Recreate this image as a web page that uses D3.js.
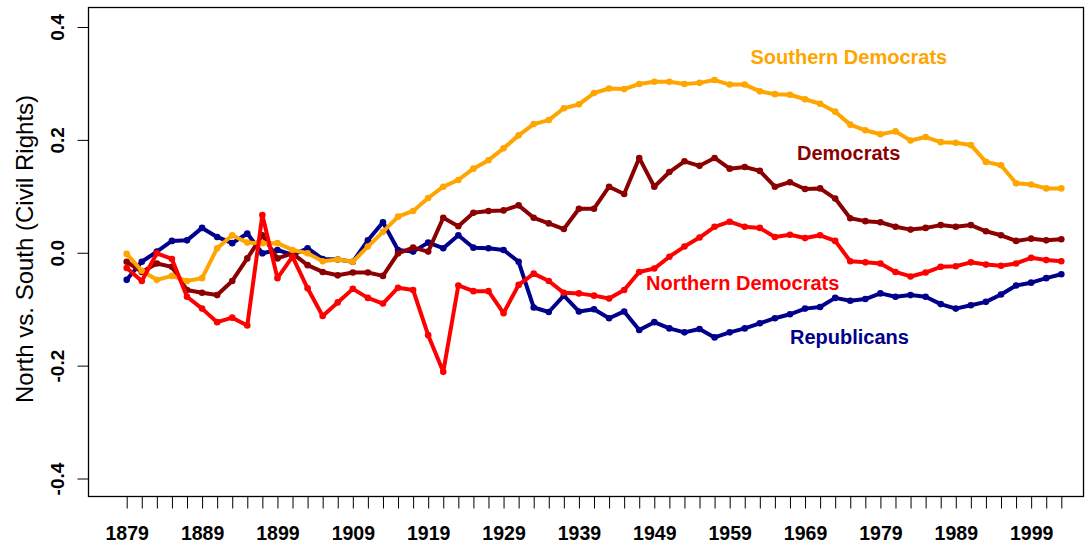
<!DOCTYPE html>
<html>
<head>
<meta charset="utf-8">
<script src="https://cdn.jsdelivr.net/npm/d3@7/dist/d3.min.js"></script>
<style>
  html, body { margin: 0; padding: 0; background: #fff; }
  svg { display: block; }
  text { font-family: "Liberation Sans", Arial, sans-serif; }
</style>
</head>
<body>
<svg id="chart" width="1086" height="545"></svg>
<script>
// Congress start years (every 2 years)
const years = d3.range(1879, 2004, 2);
const yearLabels = [1879, 1889, 1899, 1909, 1919, 1929, 1939, 1949, 1959, 1969, 1979, 1989, 1999];
const yTicks = [-0.4, -0.2, 0.0, 0.2, 0.4];

const southernDemocrats = [
  -0.002, -0.032, -0.048, -0.041, -0.050, -0.045, 0.008, 0.031, 0.018, 0.017,
   0.017, 0.005, -0.001, -0.015, -0.012, -0.016, 0.011, 0.037, 0.064, 0.074,
   0.097, 0.117, 0.129, 0.149, 0.164, 0.185, 0.208, 0.228, 0.235, 0.256,
   0.263, 0.283, 0.291, 0.290, 0.299, 0.303, 0.303, 0.299, 0.301, 0.306,
   0.298, 0.298, 0.286, 0.281, 0.280, 0.272, 0.264, 0.250, 0.227, 0.217,
   0.210, 0.215, 0.199, 0.205, 0.196, 0.195, 0.191, 0.161, 0.155, 0.123,
   0.121, 0.114, 0.114
];
const democrats = [
  -0.016, -0.034, -0.019, -0.025, -0.066, -0.071, -0.075, -0.050, -0.010, 0.031,
  -0.010, -0.001, -0.022, -0.034, -0.040, -0.035, -0.035, -0.041, -0.001, 0.009,
   0.002, 0.062, 0.047, 0.071, 0.074, 0.075, 0.084, 0.062, 0.052, 0.042,
   0.078, 0.078, 0.117, 0.104, 0.168, 0.117, 0.143, 0.162, 0.154, 0.168,
   0.149, 0.152, 0.145, 0.117, 0.125, 0.113, 0.114, 0.096, 0.061, 0.056,
   0.054, 0.046, 0.041, 0.044, 0.049, 0.046, 0.049, 0.038, 0.031, 0.021,
   0.025, 0.022, 0.024
];
const northernDemocrats = [
  -0.027, -0.050, -0.001, -0.011, -0.078, -0.099, -0.123, -0.115, -0.129, 0.067,
  -0.045, -0.007, -0.063, -0.112, -0.088, -0.064, -0.080, -0.090, -0.062, -0.066,
  -0.146, -0.211, -0.058, -0.068, -0.068, -0.107, -0.057, -0.037, -0.050, -0.071,
  -0.072, -0.076, -0.081, -0.066, -0.034, -0.028, -0.007, 0.011, 0.027, 0.046,
   0.055, 0.046, 0.044, 0.028, 0.032, 0.026, 0.031, 0.021, -0.015, -0.017,
  -0.019, -0.034, -0.042, -0.035, -0.025, -0.024, -0.017, -0.021, -0.023, -0.019,
  -0.009, -0.013, -0.015
];
const republicans = [
  -0.048, -0.016, 0.002, 0.021, 0.022, 0.044, 0.028, 0.017, 0.034, -0.001,
   0.005, -0.004, 0.008, -0.011, -0.012, -0.016, 0.022, 0.054, 0.005, 0.002,
   0.018, 0.008, 0.031, 0.009, 0.008, 0.005, -0.016, -0.097, -0.105, -0.076,
  -0.104, -0.100, -0.116, -0.104, -0.137, -0.123, -0.134, -0.141, -0.135, -0.150,
  -0.141, -0.134, -0.125, -0.116, -0.109, -0.099, -0.096, -0.080, -0.085, -0.082,
  -0.072, -0.078, -0.075, -0.078, -0.091, -0.099, -0.093, -0.087, -0.074, -0.058,
  -0.053, -0.045, -0.038
];

const seriesNames = ["Republicans", "Democrats", "Southern Democrats", "Northern Democrats"];
const seriesValues = [republicans, democrats, southernDemocrats, northernDemocrats];
const seriesColors = ["#00008B", "#8B0000", "#FFA500", "#FF0000"];

const svg = d3.select("#chart");
const box = { left: 88.5, right: 1083.5, top: 7.5, bottom: 496.5 };

const x = d3.scaleLinear().domain([1879, 2003]).range([126.7, 1061.3]);
const y = d3.scaleLinear().domain([-0.4, 0.4]).range([478.5, 27.0]);

// plot box
svg.append("rect")
  .attr("x", box.left).attr("y", box.top)
  .attr("width", box.right - box.left).attr("height", box.bottom - box.top)
  .attr("fill", "none").attr("stroke", "#000").attr("stroke-width", 1.3);

// x axis
const xAxis = d3.axisBottom(x)
  .tickValues(years)
  .tickSize(12)
  .tickFormat(d => yearLabels.includes(d) ? String(d) : "");
const gx = svg.append("g").attr("transform", `translate(0,${box.bottom})`).call(xAxis);
gx.select(".domain").remove();
gx.selectAll(".tick line").attr("stroke", "#000").attr("stroke-width", 1);
gx.selectAll(".tick text")
  .attr("y", 43.5).attr("dy", 0)
  .attr("fill", "#000")
  .style("font-size", "19.5px").style("font-weight", "bold")
  .style("font-family", "'Liberation Sans', Arial, sans-serif");

// y axis
const yAxis = d3.axisLeft(y)
  .tickValues(yTicks)
  .tickSize(11)
  .tickFormat(d => d.toFixed(1));
const gy = svg.append("g").attr("transform", `translate(${box.left},0)`).call(yAxis);
gy.select(".domain").remove();
gy.selectAll(".tick line").attr("stroke", "#000").attr("stroke-width", 1);
gy.selectAll(".tick text")
  .attr("x", 0).attr("y", 0).attr("dy", 0)
  .attr("transform", "translate(-25,0) rotate(-90)")
  .attr("text-anchor", "middle")
  .attr("fill", "#000")
  .style("font-size", "19px").style("font-weight", "bold")
  .style("font-family", "'Liberation Sans', Arial, sans-serif");

// y title
svg.append("text")
  .attr("transform", "translate(33,249) rotate(-90)")
  .attr("text-anchor", "middle")
  .style("font-size", "24px")
  .attr("fill", "#000")
  .text("North vs. South (Civil Rights)");

// lines
const line = d3.line().x((d, i) => x(years[i])).y(d => y(d));
seriesValues.forEach((vals, k) => {
  const g = svg.append("g").attr("class", "series");
  g.append("path")
    .datum(vals)
    .attr("d", line)
    .attr("fill", "none")
    .attr("stroke", seriesColors[k])
    .attr("stroke-width", 4)
    .attr("stroke-linejoin", "round");
  g.selectAll("circle").data(vals).enter().append("circle")
    .attr("cx", (d, i) => x(years[i]))
    .attr("cy", d => y(d))
    .attr("r", 3.3)
    .attr("fill", seriesColors[k]);
});

// series labels
const labelPos = {
  "Southern Democrats": [750.5, 63.5],
  "Democrats": [797, 160],
  "Northern Democrats": [646, 290],
  "Republicans": [790, 344]
};
seriesNames.forEach((n, k) => {
  svg.append("text")
    .attr("x", labelPos[n][0]).attr("y", labelPos[n][1])
    .attr("fill", seriesColors[k])
    .style("font-size", "20px").style("font-weight", "bold")
    .text(n);
});
</script>
</body>
</html>
